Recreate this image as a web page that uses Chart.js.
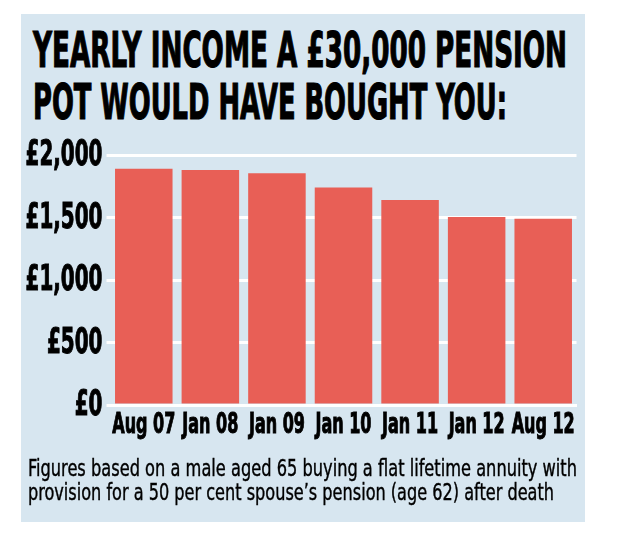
<!DOCTYPE html>
<html>
<head>
<meta charset="utf-8">
<title>Yearly income a £30,000 pension pot would have bought you</title>
<script src="https://cdn.jsdelivr.net/npm/chart.js@4.4.1/dist/chart.umd.min.js"></script>
<style>
  html, body { margin: 0; padding: 0; background: #fff; }
  #wrap { position: relative; width: 619px; height: 542px; overflow: hidden; }
  #panel { position: absolute; left: 21px; top: 14px; width: 564px; height: 508px; background: #d7e6f0; }
  .txt {
    position: absolute; white-space: nowrap; transform-origin: 0 0; color: #000; line-height: 1;
    font-family: "Liberation Sans Narrow", "DejaVu Sans Condensed", sans-serif;
  }
  .title { left: 33px; font-weight: bold; font-size: 50px; -webkit-text-stroke: 1.2px #000; }
  .note { left: 28px; font-size: 23px; -webkit-text-stroke: 0.4px #000; }
  #chart { position: absolute; left: 0; top: 0; }
</style>
</head>
<body>
<div id="wrap">
  <div id="panel"></div>
  <div class="txt title" style="top:25px" data-w="534">YEARLY INCOME A £30,000 PENSION</div>
  <div class="txt title" style="top:77px" data-w="474">POT WOULD HAVE BOUGHT YOU:</div>
  <canvas id="chart" width="619" height="542"></canvas>
  <div class="txt note" style="top:457px" data-w="549">Figures based on a male aged 65 buying a flat lifetime annuity with</div>
  <div class="txt note" style="top:481px" data-w="526">provision for a 50 per cent spouse’s pension (age 62) after death</div>
</div>
<script>
// --- data ---
const categories = ['Aug 07', 'Jan 08', 'Jan 09', 'Jan 10', 'Jan 11', 'Jan 12', 'Aug 12'];
const incomeValues = [1890, 1880, 1855, 1740, 1640, 1505, 1490];
const yTicks = [0, 500, 1000, 1500, 2000];
const yTickLabels = ['£0', '£500', '£1,000', '£1,500', '£2,000'];

const FONT = '"Liberation Sans Narrow", "DejaVu Sans Condensed", sans-serif';

// squeeze the html text lines to the width they have in the print graphic
document.querySelectorAll('.txt').forEach(el => {
    const w = el.getBoundingClientRect().width;
    const target = parseFloat(el.dataset.w);
    el.style.transform = `scaleX(${target / w})`;
});

// condensed tick labels, drawn at the positions the scales give
const tickLabels = {
    id: 'tickLabels',
    afterDraw(chart) {
        const { ctx, chartArea, scales: { x, y } } = chart;
        ctx.save();
        ctx.fillStyle = '#000';
        ctx.strokeStyle = '#000';
        ctx.lineWidth = 1;
        ctx.textBaseline = 'alphabetic';

        ctx.font = `bold 36px ${FONT}`;
        const sy = 77 / ctx.measureText('£2,000').width;
        ctx.textAlign = 'right';
        yTicks.forEach((v, i) => {
            ctx.save();
            ctx.translate(chartArea.left - 8, y.getPixelForValue(v) + 10);
            ctx.scale(sy, 1);
            ctx.fillText(yTickLabels[i], 0, 0);
            ctx.strokeText(yTickLabels[i], 0, 0);
            ctx.restore();
        });

        ctx.font = `bold 28px ${FONT}`;
        const sx = 56 / ctx.measureText('Jan 08').width;
        ctx.textAlign = 'center';
        categories.forEach((c, i) => {
            ctx.save();
            ctx.translate(x.getPixelForValue(i), chartArea.bottom + 28);
            ctx.scale(sx, 1);
            ctx.fillText(c, 0, 0);
            ctx.strokeText(c, 0, 0);
            ctx.restore();
        });
        ctx.restore();
    }
};

new Chart(document.getElementById('chart'), {
    type: 'bar',
    data: {
        labels: categories,
        datasets: [{
            data: incomeValues,
            backgroundColor: '#e85f56',
            borderWidth: 0,
            barPercentage: 0.864,
            categoryPercentage: 1
        }]
    },
    options: {
        responsive: false,
        animation: false,
        layout: { padding: { left: 106.5, right: 42.5, top: 155, bottom: 137 } },
        plugins: { legend: { display: false }, tooltip: { enabled: false } },
        scales: {
            x: {
                z: 1,
                grid: { display: false, drawTicks: false },
                border: { display: true, color: '#ffffff', width: 3 },
                ticks: { display: false },
                afterFit: s => { s.height = 0; }
            },
            y: {
                min: 0,
                max: 2000,
                ticks: { display: false, stepSize: 500 },
                grid: { color: '#ffffff', lineWidth: 3, drawTicks: true, tickLength: 4, tickColor: '#ffffff' },
                border: { display: false },
                afterFit: s => { s.width = 4; }
            }
        }
    },
    plugins: [tickLabels]
});
</script>
</body>
</html>
